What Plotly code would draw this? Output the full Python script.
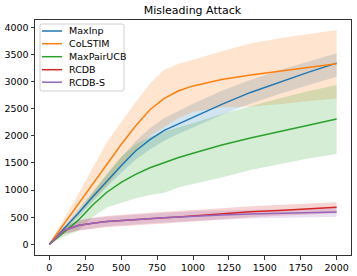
import plotly.graph_objects as go

rounds = [0, 100, 200, 300, 400, 500, 600, 700, 800, 900, 1000, 1200, 1400, 1600, 1800, 2000]

maxinp = [0, 280, 570, 870, 1170, 1450, 1720, 1930, 2100, 2220, 2340, 2580, 2800, 2990, 3170, 3340]
maxinp_up = [0, 320, 640, 960, 1290, 1600, 1900, 2140, 2330, 2460, 2590, 2830, 3030, 3210, 3370, 3520]
maxinp_lo = [0, 240, 500, 790, 1060, 1320, 1560, 1750, 1910, 2040, 2160, 2390, 2590, 2770, 2930, 3090]

colstim = [0, 370, 740, 1110, 1480, 1840, 2180, 2480, 2690, 2830, 2920, 3040, 3120, 3190, 3270, 3330]
colstim_up = [0, 450, 920, 1400, 1880, 2250, 2620, 2960, 3220, 3330, 3400, 3560, 3700, 3800, 3880, 3950]
colstim_lo = [0, 290, 560, 820, 1080, 1430, 1740, 2000, 2160, 2330, 2440, 2520, 2540, 2580, 2640, 2690]

maxpair = [0, 220, 440, 720, 960, 1140, 1290, 1410, 1510, 1600, 1680, 1830, 1960, 2080, 2200, 2310]
maxpair_up = [0, 280, 590, 950, 1300, 1620, 1840, 1980, 2080, 2160, 2230, 2400, 2550, 2690, 2820, 2936]
maxpair_lo = [0, 140, 250, 500, 680, 770, 850, 910, 950, 1050, 1110, 1230, 1370, 1480, 1580, 1664]

rcdb = [0, 255, 345, 390, 420, 440, 460, 475, 490, 505, 525, 565, 600, 625, 655, 682]
rcdb_up = [0, 320, 440, 490, 520, 545, 565, 580, 595, 610, 630, 665, 700, 725, 750, 774]
rcdb_lo = [0, 190, 250, 290, 320, 335, 355, 370, 385, 400, 420, 460, 500, 525, 550, 571]

rcdbs = [0, 255, 345, 390, 420, 440, 460, 475, 490, 505, 520, 540, 560, 572, 584, 595]
rcdbs_up = [0, 310, 430, 480, 510, 530, 550, 565, 580, 595, 610, 625, 640, 650, 657, 663]
rcdbs_lo = [0, 200, 260, 300, 330, 350, 370, 385, 400, 415, 430, 455, 475, 490, 500, 509]

names = ["MaxInp", "CoLSTIM", "MaxPairUCB", "RCDB", "RCDB-S"]
colors = ["#1f77b4", "#ff7f0e", "#2ca02c", "#d62728", "#9467bd"]
fills = ["rgba(31,119,180,0.2)", "rgba(255,127,14,0.2)", "rgba(44,160,44,0.2)",
         "rgba(214,39,40,0.2)", "rgba(148,103,189,0.2)"]
means = [maxinp, colstim, maxpair, rcdb, rcdbs]
ups = [maxinp_up, colstim_up, maxpair_up, rcdb_up, rcdbs_up]
los = [maxinp_lo, colstim_lo, maxpair_lo, rcdb_lo, rcdbs_lo]

W, H = 357, 276
L, R, T, B = 35, 6, 20, 21
PW, PH = W - L - R, H - T - B


def px(x):
    return (x - L) / PW


def py(y):
    return (H - B - y) / PH


fig = go.Figure()
for n, f, u, l in zip(names, fills, ups, los):
    fig.add_trace(go.Scatter(x=rounds, y=u, mode="lines", line=dict(width=0),
                             showlegend=False, hoverinfo="skip"))
    fig.add_trace(go.Scatter(x=rounds, y=l, mode="lines", line=dict(width=0),
                             fill="tonexty", fillcolor=f, showlegend=False, hoverinfo="skip"))
for n, c, m in zip(names, colors, means):
    fig.add_trace(go.Scatter(x=rounds, y=m, mode="lines", name=n,
                             line=dict(color=c, width=1.5), showlegend=False))

# legend drawn as layout decoration (box, line samples, labels)
shapes = []
annotations = []
bx0, bx1, by0, by1, rr = 40, 124, 24, 91, 2
path = (f"M {px(bx0 + rr)},{py(by0)} L {px(bx1 - rr)},{py(by0)} "
        f"Q {px(bx1)},{py(by0)} {px(bx1)},{py(by0 + rr)} L {px(bx1)},{py(by1 - rr)} "
        f"Q {px(bx1)},{py(by1)} {px(bx1 - rr)},{py(by1)} L {px(bx0 + rr)},{py(by1)} "
        f"Q {px(bx0)},{py(by1)} {px(bx0)},{py(by1 - rr)} L {px(bx0)},{py(by0 + rr)} "
        f"Q {px(bx0)},{py(by0)} {px(bx0 + rr)},{py(by0)} Z")
shapes.append(dict(type="path", xref="paper", yref="paper", path=path,
                   fillcolor="rgba(255,255,255,0.8)", line=dict(color="#d0d0d0", width=1)))
entry_y = [31, 43.7, 56.7, 69.7, 82.2]
for n, c, ey in zip(names, colors, entry_y):
    shapes.append(dict(type="line", xref="paper", yref="paper",
                       x0=px(42), x1=px(62), y0=py(ey), y1=py(ey),
                       line=dict(color=c, width=1.5)))
    annotations.append(dict(text=n, xref="paper", yref="paper", x=px(67), y=py(ey),
                            xanchor="left", yanchor="middle", showarrow=False,
                            font=dict(family="DejaVu Sans", size=9.5, color="#000")))

axis_common = dict(showline=True, linecolor="#333", linewidth=1, mirror=True,
                   ticks="outside", ticklen=3.5, tickcolor="#333", showgrid=False,
                   zeroline=False, automargin=False,
                   tickfont=dict(family="DejaVu Sans", size=9.5, color="#000"))
fig.update_xaxes(range=[-100, 2100], tickvals=[0, 250, 500, 750, 1000, 1250, 1500, 1750, 2000],
                 **axis_common)
fig.update_yaxes(range=[-197, 4135], tickvals=[0, 500, 1000, 1500, 2000, 2500, 3000, 3500, 4000],
                 **axis_common)
fig.update_layout(
    width=W, height=H,
    margin=dict(l=L, r=R, t=T, b=B),
    plot_bgcolor="white", paper_bgcolor="white",
    title=dict(text="Misleading Attack", x=192.5 / W, xanchor="center", y=1 - 10 / H,
               yanchor="middle",
               font=dict(family="DejaVu Sans", size=11, color="#000")),
    shapes=shapes, annotations=annotations,
    showlegend=False,
)
fig.write_html("out.html", config={"displayModeBar": False},
               post_script="document.body.style.margin='0';document.body.style.padding='0';")
